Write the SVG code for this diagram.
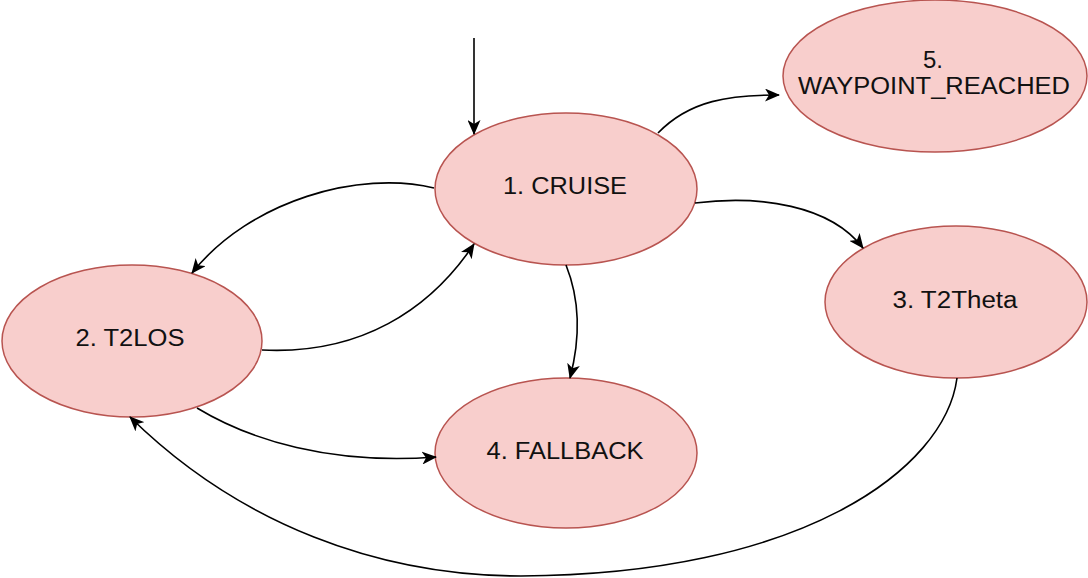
<svg xmlns="http://www.w3.org/2000/svg" width="1088" height="578" viewBox="0 0 1088 578">
<style>
.n ellipse{fill:#f8cecc;stroke:#b85450;stroke-width:1.5}
.n text{font-family:"Liberation Sans",Arial,sans-serif;font-size:23.5px;fill:#111;text-anchor:middle}
.e path{fill:none;stroke:#000;stroke-width:1.6}
</style>
<defs>
<marker id="arr" viewBox="0 0 15 13" refX="14" refY="6.5" markerWidth="15" markerHeight="13" markerUnits="userSpaceOnUse" orient="auto">
<path d="M0,0 L15,6.5 L0,13 L4,6.5 Z" fill="#000"/>
</marker>
</defs>
<rect width="1088" height="578" fill="#fff"/>
<g id="n1" class="n"><ellipse cx="566" cy="189" rx="131" ry="76"/><text x="565" y="194" textLength="124" lengthAdjust="spacingAndGlyphs">1. CRUISE</text></g>
<g id="n5" class="n"><ellipse cx="935" cy="76" rx="152" ry="76"/><text x="933" y="68" textLength="20" lengthAdjust="spacingAndGlyphs">5.</text><text x="934" y="94" textLength="272" lengthAdjust="spacingAndGlyphs">WAYPOINT_REACHED</text></g>
<g id="n2" class="n"><ellipse cx="132" cy="341" rx="130" ry="76"/><text x="130" y="346" textLength="109" lengthAdjust="spacingAndGlyphs">2. T2LOS</text></g>
<g id="n3" class="n"><ellipse cx="956" cy="302" rx="131" ry="76"/><text x="955" y="308" textLength="125" lengthAdjust="spacingAndGlyphs">3. T2Theta</text></g>
<g id="n4" class="n"><ellipse cx="566" cy="453" rx="131" ry="75"/><text x="565" y="459" textLength="157" lengthAdjust="spacingAndGlyphs">4. FALLBACK</text></g>
<g id="edges" class="e">
<path d="M474 38 L474 134" marker-end="url(#arr)"/>
<path d="M658 133 C690 100,730 95,779 95" marker-end="url(#arr)"/>
<path d="M695 203 C760 195,830 205,863 248" marker-end="url(#arr)"/>
<path d="M434 188 C360 170,250 200,192 273" marker-end="url(#arr)"/>
<path d="M262 350 C360 355,430 310,474 244" marker-end="url(#arr)"/>
<path d="M566 265 C580 300,580 340,570 378" marker-end="url(#arr)"/>
<path d="M197 408 C250 440,330 465,436 457" marker-end="url(#arr)"/>
<path d="M957 378 C945 470,800 575,521 576 C380 576,240 525,130 417" marker-end="url(#arr)"/>
</g>
</svg>
